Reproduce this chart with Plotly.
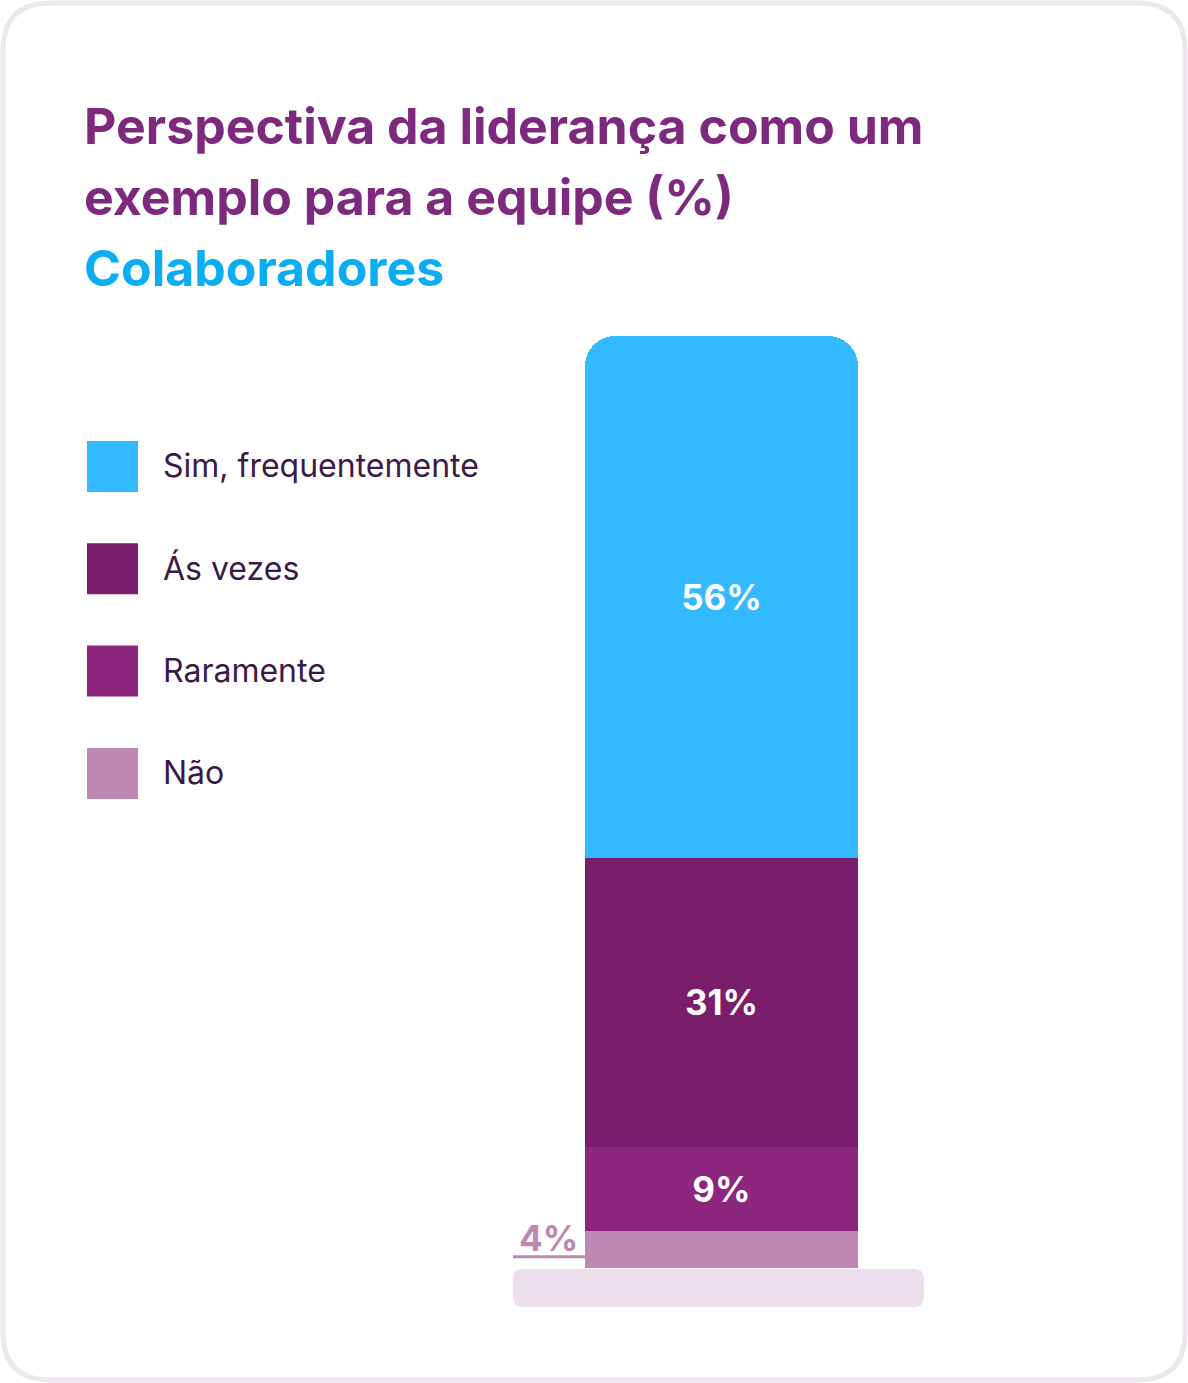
import plotly.graph_objects as go

W, H = 1188, 1383

# data (bottom of stack first)
categories = ["Não", "Raramente", "Ás vezes", "Sim, frequentemente"]
values = [4, 9, 31, 56]
colors = ["#BD89B3", "#8D267F", "#7A1E6B", "#33B9FF"]

title_lines = ["Perspectiva da liderança como um", "exemplo para a equipe (%)"]
subtitle = "Colaboradores"

FONT = "Inter, 'Open Sans', sans-serif"


def px(x):
    return x / W


def py(y):
    return 1 - y / H


def rounded_rect(x0, y0, x1, y1, r):
    # pixel coords -> paper coords svg path
    pts = [
        f"M{px(x0 + r)},{py(y0)}",
        f"L{px(x1 - r)},{py(y0)}",
        f"Q{px(x1)},{py(y0)} {px(x1)},{py(y0 + r)}",
        f"L{px(x1)},{py(y1 - r)}",
        f"Q{px(x1)},{py(y1)} {px(x1 - r)},{py(y1)}",
        f"L{px(x0 + r)},{py(y1)}",
        f"Q{px(x0)},{py(y1)} {px(x0)},{py(y1 - r)}",
        f"L{px(x0)},{py(y0 + r)}",
        f"Q{px(x0)},{py(y0)} {px(x0 + r)},{py(y0)}",
        "Z",
    ]
    return " ".join(pts)


fig = go.Figure()

for cat, val, col in zip(categories, values, colors):
    fig.add_trace(go.Bar(
        x=[0], y=[val], name=cat, width=1,
        marker=dict(color=col, line=dict(width=0)),
        text=[f"{val}%" if cat != "Não" else ""],
        textposition="inside", insidetextanchor="middle",
        textfont=dict(family=FONT, size=35, color="white", weight=700),
        hoverinfo="skip", showlegend=False,
    ))

shapes = [
    # card
    dict(type="path", path=rounded_rect(3, 3, 1185, 1380, 48), xref="paper", yref="paper",
         line=dict(color="#EEE6EF", width=5), fillcolor="white", layer="below"),
    # base platform
    dict(type="path", path=rounded_rect(513, 1269, 924, 1307, 10), xref="paper", yref="paper",
         line=dict(width=0), fillcolor="#EADFEB", layer="below"),
    # underline of the outside label
    dict(type="line", xref="paper", yref="y", x0=px(513), x1=px(585),
         y0=values[0] * 0.3, y1=values[0] * 0.3, line=dict(color="#BD89B3", width=3)),
]

annotations = [
    dict(text=f"{values[0]}%", xref="x", yref="y", x=-0.5, y=values[0] * 0.8,
         xanchor="right", yanchor="middle", xshift=-5, showarrow=False,
         font=dict(family=FONT, size=35, color="#BD89B3", weight=700)),
]

for i, line in enumerate(title_lines):
    annotations.append(dict(
        text=line, xref="paper", yref="paper", x=px(82), y=py(126 + i * 71),
        xanchor="left", yanchor="middle", showarrow=False,
        font=dict(family=FONT, size=50, color="#7D2A7E", weight=700)))
annotations.append(dict(
    text=subtitle, xref="paper", yref="paper", x=px(82), y=py(268),
    xanchor="left", yanchor="middle", showarrow=False,
    font=dict(family=FONT, size=50, color="#0AADF2", weight=700)))

# legend drawn by hand (top item = top of stack)
for i, (cat, col) in enumerate(zip(categories[::-1], colors[::-1])):
    top = 441 + i * 102.3
    shapes.append(dict(type="rect", xref="paper", yref="paper",
                       x0=px(87), x1=px(138), y0=py(top), y1=py(top + 51),
                       fillcolor=col, line=dict(width=0)))
    annotations.append(dict(
        text=cat, xref="paper", yref="paper", x=px(161), y=py(top + 25),
        xanchor="left", yanchor="middle", showarrow=False,
        font=dict(family=FONT, size=32, color="#3B1A48")))

fig.update_layout(
    width=W, height=H,
    margin=dict(l=0, r=0, t=0, b=0),
    paper_bgcolor="white", plot_bgcolor="rgba(0,0,0,0)",
    barmode="stack", barcornerradius=30,
    xaxis=dict(domain=[px(585), px(858)], range=[-0.5, 0.5], visible=False, fixedrange=True),
    yaxis=dict(domain=[py(1268), py(336)], range=[0, sum(values)], visible=False, fixedrange=True),
    shapes=shapes, annotations=annotations,
    showlegend=False,
)

fig.write_html("out.html", config={"displayModeBar": False},
               post_script="document.body.style.margin='0';")
